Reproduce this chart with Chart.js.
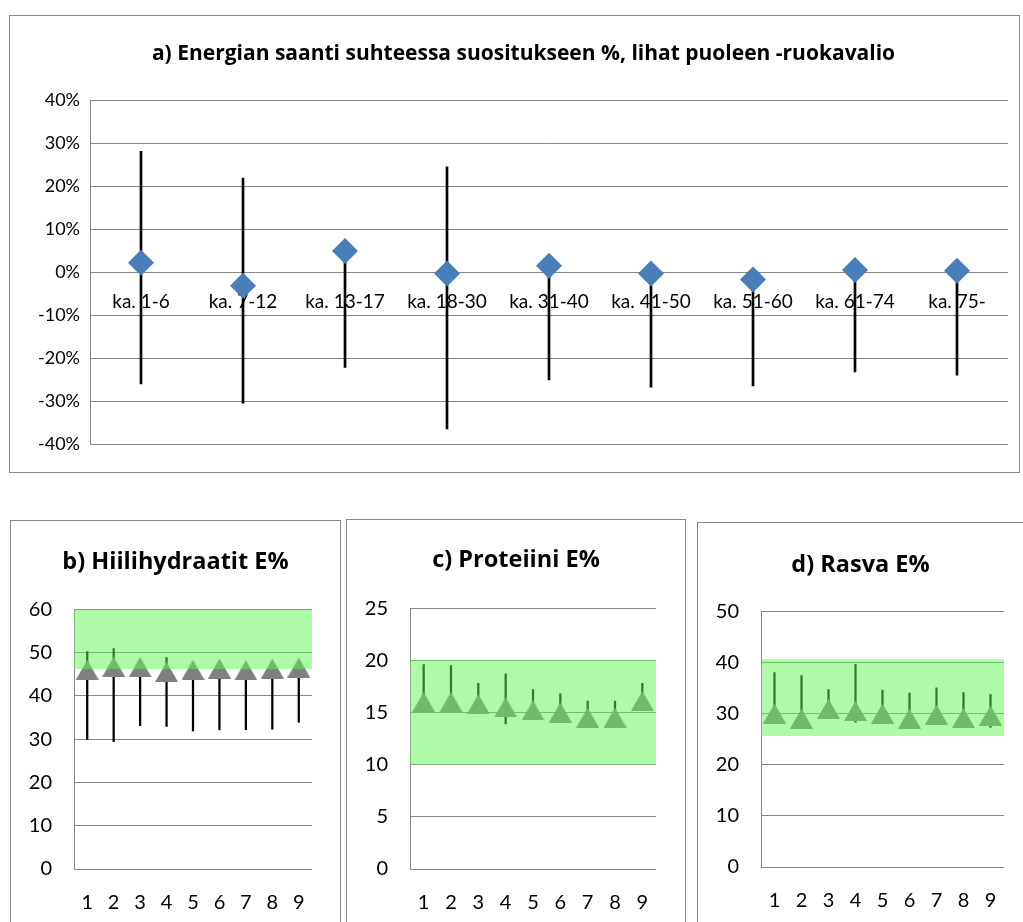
<!DOCTYPE html>
<html>
<head>
<meta charset="utf-8">
<script src="https://cdn.jsdelivr.net/npm/chart.js@4/dist/chart.umd.min.js"></script>
<style>
  html, body { margin: 0; padding: 0; background: #fff; overflow: hidden; }
  body { width: 1023px; height: 922px; position: relative; }
  .box { position: absolute; border: 1px solid #888; box-sizing: border-box; }
  canvas { position: absolute; }
</style>
</head>
<body>
<div class="box" style="left:9px;top:15px;width:1011px;height:458px;"></div>
<div class="box" style="left:10px;top:520px;width:331px;height:440px;"></div>
<div class="box" style="left:346px;top:519px;width:340px;height:440px;"></div>
<div class="box" style="left:697px;top:522px;width:340px;height:440px;"></div>
<canvas id="ca" style="left:10px;top:16px;"></canvas>
<canvas id="cb" style="left:11px;top:521px;"></canvas>
<canvas id="cc" style="left:347px;top:520px;"></canvas>
<canvas id="cd" style="left:698px;top:523px;"></canvas>
<script>
// ---------- data ----------
const aTitle = 'a) Energian saanti suhteessa suositukseen %, lihat puoleen -ruokavalio';
const aLabels = ['ka. 1-6', 'ka. 7-12', 'ka. 13-17', 'ka. 18-30', 'ka. 31-40', 'ka. 41-50', 'ka. 51-60', 'ka. 61-74', 'ka. 75-'];
const aMean = [2.2, -3.2, 4.9, -0.3, 1.5, -0.3, -1.7, 0.5, 0.3];
const aHigh = [28.1, 21.9, 4.9, 24.5, 1.5, -0.3, -1.7, 0.5, 0.3];
const aLow = [-26.0, -30.5, -22.2, -36.5, -25.1, -26.8, -26.5, -23.2, -24.0];
const aTicks = [-40, -30, -20, -10, 0, 10, 20, 30, 40];

const smallLabels = ['1', '2', '3', '4', '5', '6', '7', '8', '9'];

const bTitle = 'b) Hiilihydraatit E%';
const bMean = [46.0, 46.7, 46.6, 45.5, 46.0, 46.3, 45.9, 46.3, 46.5];
const bHigh = [50.2, 50.9, 46.6, 48.8, 46.0, 46.3, 45.9, 46.3, 46.5];
const bLow = [29.9, 29.4, 33.1, 32.9, 31.9, 32.1, 32.2, 32.3, 33.9];
const bBand = [46.2, 60];
const bTicks = [0, 10, 20, 30, 40, 50, 60];

const cTitle = 'c) Proteiini E%';
const cMean = [16.0, 16.0, 15.8, 15.5, 15.2, 15.0, 14.5, 14.5, 16.1];
const cHigh = [19.6, 19.5, 17.8, 18.7, 17.2, 16.8, 16.1, 16.1, 17.8];
const cLow = [16.0, 16.0, 15.8, 13.9, 15.2, 15.0, 14.5, 14.5, 16.1];
const cBand = [10, 20];
const cTicks = [0, 5, 10, 15, 20, 25];

const dTitle = 'd) Rasva E%';
const dMean = [30.0, 29.0, 30.9, 30.5, 30.0, 29.0, 29.8, 29.1, 29.6];
const dHigh = [38.0, 37.4, 34.7, 39.6, 34.6, 34.0, 35.0, 34.1, 33.7];
const dLow = [30.0, 29.0, 30.9, 28.3, 28.0, 29.0, 29.8, 29.1, 27.3];
const dBand = [25.6, 40.6];
const dTicks = [0, 10, 20, 30, 40, 50];

// ---------- setup ----------
Chart.defaults.font.family = 'Lato, "Open Sans", sans-serif';
Chart.defaults.color = '#000';
Chart.defaults.animation = false;
const GRID = '#878787';
const TITLE_FONT = '"Open Sans", Lato, sans-serif';

function sizeCanvas(id, w, h) {
  const c = document.getElementById(id);
  c.width = w; c.height = h;
  c.style.width = w + 'px'; c.style.height = h + 'px';
  return c;
}

// an invisible right-hand axis used only to reserve space on the right,
// so that the title stays centred over the whole canvas
function spacerAxis(w) {
  return {
    position: 'right',
    display: true,
    grid: { display: false, drawTicks: false },
    border: { display: false },
    ticks: { display: false },
    afterFit: s => { s.width = w; }
  };
}

// ---------- chart a ----------
(function () {
  const c = sizeCanvas('ca', 1027, 456);
  new Chart(c, {
    type: 'bar',
    data: {
      labels: aLabels,
      datasets: [
        {
          type: 'line',
          data: aMean,
          showLine: false,
          pointStyle: 'rectRot',
          pointRadius: 13,
          pointBackgroundColor: '#4a7ebb',
          pointBorderColor: '#4a7ebb',
          pointBorderWidth: 0,
          order: 0
        },
        {
          type: 'bar',
          data: aLow.map((l, i) => [l, aHigh[i]]),
          backgroundColor: '#000',
          barThickness: 2,
          order: 1
        }
      ]
    },
    options: {
      responsive: false,
      layout: { padding: { left: 0, right: 0, bottom: 28, top: 0 } },
      plugins: {
        legend: { display: false },
        tooltip: { enabled: false },
        title: {
          display: true,
          text: aTitle,
          font: { family: TITLE_FONT, size: 21, weight: 'bold' },
          padding: { top: 25, bottom: 34 }
        }
      },
      scales: {
        x: {
          position: { y: 0 },
          grid: { display: false, drawTicks: false },
          border: { display: false },
          ticks: { font: { size: 19 }, padding: 18, maxRotation: 0, autoSkip: false }
        },
        y: {
          min: aTicks[0], max: aTicks[aTicks.length - 1],
          afterBuildTicks: s => { s.ticks = aTicks.map(v => ({ value: v })); },
          afterFit: s => { s.width = 80; },
          grid: { color: GRID, lineWidth: 1, drawTicks: false },
          border: { display: true, color: GRID, width: 1 },
          ticks: { font: { size: 18 }, padding: 10, callback: v => v + '%' }
        },
        ySpacer: spacerAxis(29)
      }
    }
  });
})();

// ---------- small charts ----------
function triangleStyle() {
  const t = document.createElement('canvas');
  t.width = 23; t.height = 20;
  const g = t.getContext('2d');
  g.fillStyle = '#808080';
  g.beginPath();
  g.moveTo(0, 20); g.lineTo(11.5, 0); g.lineTo(23, 20); g.closePath();
  g.fill();
  return t;
}
const TRI = triangleStyle();

function smallChart(id, w, h, title, mean, hi, lo, band, ticks, padR, titlePad, xH) {
  const c = sizeCanvas(id, w, h);
  const n = mean.length;
  new Chart(c, {
    type: 'bar',
    data: {
      datasets: [
        {
          type: 'line',
          data: [{ x: 0.5, y: band[1] }, { x: n + 0.5, y: band[1] }],
          fill: { value: band[0] },
          backgroundColor: 'rgba(96,245,80,0.5)',
          borderWidth: 0,
          pointRadius: 0,
          order: 0
        },
        {
          type: 'line',
          data: mean.map((v, i) => ({ x: i + 1, y: v })),
          showLine: false,
          pointStyle: TRI,
          pointRadius: 11,
          order: 1
        },
        {
          type: 'bar',
          data: lo.map((l, i) => ({ x: i + 1, y: [l, hi[i]] })),
          backgroundColor: '#000',
          barThickness: 1.6,
          order: 2
        }
      ]
    },
    options: {
      responsive: false,
      layout: { padding: 0 },
      plugins: {
        legend: { display: false },
        tooltip: { enabled: false },
        title: {
          display: true,
          text: title,
          font: { family: TITLE_FONT, size: 23.5, weight: 'bold' },
          padding: titlePad
        }
      },
      scales: {
        x: {
          type: 'linear',
          offset: false,
          min: 0.5, max: n + 0.5,
          afterBuildTicks: s => { s.ticks = smallLabels.map((_, i) => ({ value: i + 1 })); },
          afterFit: s => { s.height = xH; },
          grid: { display: false, drawTicks: false },
          border: { display: false },
          ticks: { font: { size: 20 }, padding: 22, maxRotation: 0, autoSkip: false,
                   callback: v => smallLabels[Math.round(v) - 1] }
        },
        y: {
          min: ticks[0], max: ticks[ticks.length - 1],
          afterBuildTicks: s => { s.ticks = ticks.map(v => ({ value: v })); },
          afterFit: s => { s.width = 63; },
          grid: { color: GRID, lineWidth: 1, drawTicks: false },
          border: { display: true, color: GRID, width: 1 },
          ticks: { font: { size: 20 }, padding: 22 }
        },
        ySpacer: spacerAxis(padR)
      }
    }
  });
}

smallChart('cb', 329, 401, bTitle, bMean, bHigh, bLow, bBand, bTicks, 28, { top: 27.5, bottom: 32.5 }, 53);
smallChart('cc', 338, 402, cTitle, cMean, cHigh, cLow, cBand, cTicks, 29, { top: 26.5, bottom: 33.5 }, 53);
smallChart('cd', 325, 399, dTitle, dMean, dHigh, dLow, dBand, dTicks, 19, { top: 28.5, bottom: 31.5 }, 55);
</script>
</body>
</html>
